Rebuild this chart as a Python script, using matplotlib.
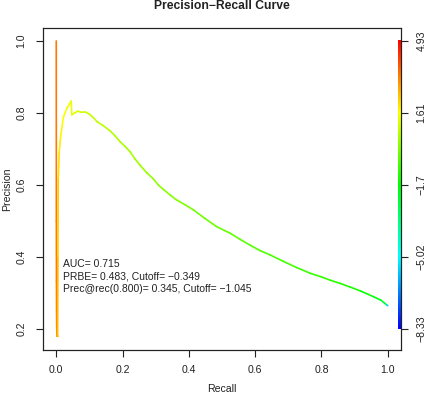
import numpy as np
import matplotlib
matplotlib.use("Agg")
import matplotlib.pyplot as plt
from matplotlib.collections import LineCollection
from matplotlib.colors import ListedColormap, Normalize, hsv_to_rgb

plt.rcParams['font.family'] = ['Liberation Sans', 'DejaVu Sans']

recall = [0.000, 0.0003, 0.0006, 0.001, 0.0015, 0.002, 0.004, 0.005, 0.006, 0.009,
          0.012, 0.017, 0.022, 0.032, 0.040, 0.045, 0.047, 0.055, 0.065, 0.075,
          0.087, 0.100, 0.112, 0.123, 0.140, 0.163, 0.178, 0.193, 0.208, 0.223,
          0.238, 0.253, 0.273, 0.293, 0.308, 0.323, 0.344, 0.364, 0.389, 0.414,
          0.449, 0.483, 0.525, 0.555, 0.585, 0.615, 0.645, 0.685, 0.725, 0.766,
          0.800, 0.826, 0.856, 0.886, 0.920, 0.957, 0.980, 0.997, 1.000]
precision = [1.000, 0.500, 0.333, 0.250, 0.200, 0.180, 0.180, 0.400, 0.620, 0.690,
             0.725, 0.760, 0.790, 0.813, 0.825, 0.833, 0.795, 0.800, 0.805, 0.802,
             0.803, 0.797, 0.787, 0.776, 0.766, 0.750, 0.736, 0.720, 0.707, 0.692,
             0.672, 0.655, 0.634, 0.617, 0.600, 0.588, 0.572, 0.558, 0.545, 0.531,
             0.507, 0.485, 0.466, 0.449, 0.433, 0.418, 0.406, 0.388, 0.371, 0.355,
             0.345, 0.336, 0.327, 0.317, 0.305, 0.290, 0.280, 0.267, 0.265]
cutoff = [3.40, 3.30, 3.25, 3.20, 3.15, 3.10, 2.60, 2.30, 2.10, 1.90,
          1.80, 1.70, 1.60, 1.50, 1.40, 1.35, 1.30, 1.20, 1.10, 1.00,
          0.95, 0.90, 0.85, 0.80, 0.72, 0.65, 0.60, 0.55, 0.50, 0.45,
          0.40, 0.35, 0.28, 0.20, 0.15, 0.10, 0.05, 0.00, -0.08, -0.15,
          -0.25, -0.349, -0.45, -0.52, -0.60, -0.66, -0.72, -0.80, -0.90, -0.98,
          -1.045, -1.10, -1.20, -1.30, -1.45, -1.70, -2.00, -2.60, -8.33]

cut_min, cut_max = -8.33, 4.93
key_ticks = [0.2, 0.4, 0.6, 0.8, 1.0]
key_labels = ["\u22128.33", "\u22125.02", "\u22121.7", "1.61", "4.93"]
x_ticks = [0.0, 0.2, 0.4, 0.6, 0.8, 1.0]
y_ticks = [0.2, 0.4, 0.6, 0.8, 1.0]

info_lines = ["AUC= 0.715",
              "PRBE= 0.483, Cutoff= \u22120.349",
              "Prec@rec(0.800)= 0.345, Cutoff= \u22121.045"]

# R rainbow(256, start=0, end=4/6) reversed: low = blue, high = red
n = 256
hues = np.linspace(4/6, 0, n)
cols = hsv_to_rgb(np.column_stack([hues, np.ones(n), np.ones(n)]))
cmap = ListedColormap(cols)
norm = Normalize(cut_min, cut_max)

W, H = 427, 396
fig = plt.figure(figsize=(W/100, H/100), dpi=100)
ax = fig.add_axes([43/W, 46/H, 358/W, 322/H])

pts = np.column_stack([recall, precision])
segs = np.stack([pts[:-1], pts[1:]], axis=1)
cseg = (np.array(cutoff[:-1]) + np.array(cutoff[1:])) / 2
lc = LineCollection(segs, colors=cmap(norm(cseg)), linewidths=1.2, capstyle='round', joinstyle='round')
ax.add_collection(lc)

# color key along right edge
grad = np.linspace(cut_max, cut_min, 256).reshape(-1, 1)
ax.imshow(grad, cmap=cmap, norm=norm, aspect='auto', extent=[1.030, 1.04, 0.2, 1.0], origin='upper', zorder=3)
ax.set_xlim(-0.04, 1.04)
ax.set_ylim(0.142, 1.036)

tc = '#222222'
ax.set_xticks(x_ticks)
ax.set_xticklabels([f"{v:.1f}" for v in x_ticks])
ax.set_yticks(y_ticks)
ax.set_yticklabels([f"{v:.1f}" for v in y_ticks], rotation=90, va='center')
ax.tick_params(axis='both', length=5, width=0.8, labelsize=7.6, colors=tc, pad=6)
ax.tick_params(axis='y', pad=7)

ax2 = ax.twinx()
ax2.set_ylim(ax.get_ylim())
ax2.set_yticks(key_ticks)
ax2.set_yticklabels(key_labels, rotation=90, va='center')
ax2.tick_params(axis='y', length=5, width=0.8, labelsize=7.6, colors=tc, pad=6)

for a in (ax, ax2):
    for s in a.spines.values():
        s.set_linewidth(0.8)
        s.set_color('#222222')

fig.text(222/W, 1 - 389/H, "Recall", fontsize=7.6, color=tc, ha='center', va='center')
fig.text(7/W, 1 - 189/H, "Precision", fontsize=7.6, color=tc, ha='center', va='center', rotation=90)
fig.text(222/W, 1 - 6/H, "Precision\u2212Recall Curve", fontsize=8.7, fontweight='bold', color=tc, ha='center', va='center')

for i, line in enumerate(info_lines):
    ax.text(0.02, 0.38 - i * 12.5 / 360, line, fontsize=7.5, color=tc, ha='left', va='center')

fig.savefig("out.png", dpi=100)
